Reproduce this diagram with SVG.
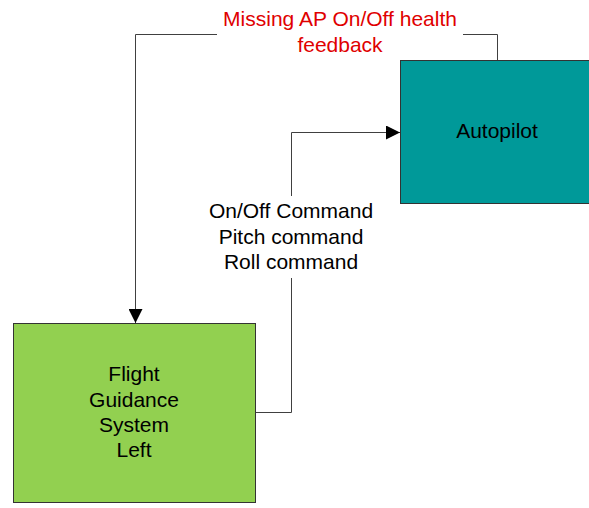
<svg xmlns="http://www.w3.org/2000/svg" width="589" height="508" viewBox="0 0 589 508">
  <defs>
    <marker id="arrow" viewBox="0 0 14 14" refX="14" refY="7" markerWidth="14" markerHeight="14" markerUnits="userSpaceOnUse" orient="auto">
      <path d="M0,0 L14,7 L0,14 Z" fill="#000"/>
    </marker>
  </defs>
  <style>
    .box { stroke: #333; stroke-width: 1; }
    .wire { fill: none; stroke: #404040; stroke-width: 1; }
    .lbl { font-family: "Liberation Sans", Arial, sans-serif; font-size: 21px; text-anchor: middle; fill: #000; }
    .warn { fill: #e00000; }
  </style>
  <rect width="589" height="508" fill="#fff"/>

  <g id="connectors">
    <!-- health feedback: Autopilot top back down to FGS -->
    <path class="wire" d="M497.5,60 V34.5 H135.5 V323" marker-end="url(#arrow)"/>
    <!-- commands: FGS right side up to Autopilot -->
    <path class="wire" d="M255,412.5 H291.5 V132.5 H400" marker-end="url(#arrow)"/>
    <g id="feedback-label">
      <rect x="217" y="6" width="246" height="52" fill="#fff"/>
      <text class="lbl warn" x="340" y="26">Missing AP On/Off health</text>
      <text class="lbl warn" x="340" y="52">feedback</text>
    </g>
    <g id="command-label">
      <rect x="205" y="196" width="172" height="82" fill="#fff"/>
      <text class="lbl" x="291" y="218">On/Off Command</text>
      <text class="lbl" x="291" y="244">Pitch command</text>
      <text class="lbl" x="291" y="269">Roll command</text>
    </g>
  </g>

  <g id="autopilot">
    <rect class="box" x="400.5" y="60.5" width="194" height="143" fill="#009999"/>
    <text class="lbl" x="497" y="138">Autopilot</text>
  </g>

  <g id="fgs-left">
    <rect class="box" x="13.5" y="323.5" width="242" height="179" fill="#92d050"/>
    <text class="lbl" x="134" y="381">Flight</text>
    <text class="lbl" x="134" y="407">Guidance</text>
    <text class="lbl" x="134" y="432">System</text>
    <text class="lbl" x="134" y="457">Left</text>
  </g>
</svg>
